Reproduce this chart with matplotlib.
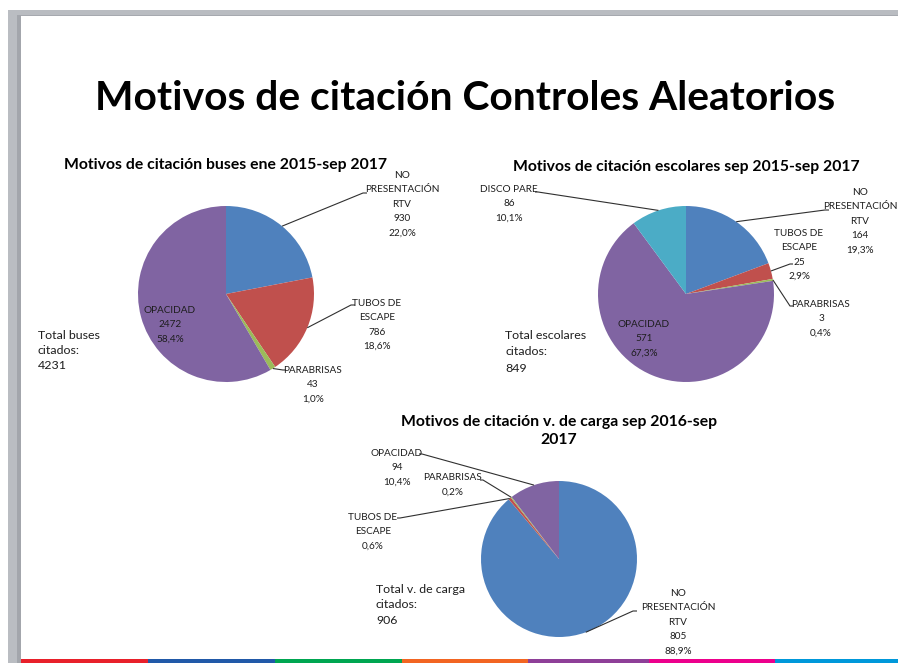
import numpy as np
import matplotlib
matplotlib.use("Agg")
import matplotlib.pyplot as plt
from matplotlib.patches import Rectangle

plt.rcParams['font.family'] = ['Lato', 'DejaVu Sans']

# ---------------- data ----------------
title = "Motivos de citación Controles Aleatorios"

buses_title = "Motivos de citación buses ene 2015-sep 2017"
buses_labels = ["NO\nPRESENTACIÓN\nRTV", "TUBOS DE\nESCAPE", "PARABRISAS", "OPACIDAD"]
buses_values = [930, 786, 43, 2472]
buses_pct = ["22,0%", "18,6%", "1,0%", "58,4%"]
buses_total = 4231

esc_title = "Motivos de citación escolares sep 2015-sep 2017"
esc_labels = ["NO\nPRESENTACIÓN\nRTV", "TUBOS DE\nESCAPE", "PARABRISAS", "OPACIDAD", "DISCO PARE"]
esc_values = [164, 25, 3, 571, 86]
esc_pct = ["19,3%", "2,9%", "0,4%", "67,3%", "10,1%"]
esc_total = 849

carga_title = "Motivos de citación v. de carga sep 2016-sep\n2017"
carga_labels = ["NO\nPRESENTACIÓN\nRTV", "TUBOS DE\nESCAPE", "PARABRISAS", "OPACIDAD"]
carga_values = [805, 5, 2, 94]
carga_pct = ["88,9%", "0,6%", "0,2%", "10,4%"]
carga_show_value = [True, False, False, True]
carga_total = 906

COLORS = {"NO\nPRESENTACIÓN\nRTV": "#4F81BD", "TUBOS DE\nESCAPE": "#C0504D",
          "PARABRISAS": "#9BBB59", "OPACIDAD": "#8064A2", "DISCO PARE": "#4BACC6"}

W, H = 898, 663
fig = plt.figure(figsize=(W / 100, H / 100), dpi=100)
ax = fig.add_axes([0, 0, 1, 1])

def Y(y):  # pixel-from-top -> data y
    return H - y

LABEL_FS = 7.2
TOTAL_FS = 8.9
SUB_FS = 11.3
TXT = "#1E1E1E"

def draw_pie(values, labels, pct, center, radius, layout, show_value=None):
    cx, cy = center
    cols = [COLORS[l] for l in labels]
    wedges, _ = ax.pie(values, colors=cols, startangle=90, counterclock=False,
                       center=(cx, Y(cy)), radius=radius,
                       wedgeprops=dict(linewidth=0))
    for i, w in enumerate(wedges):
        txt = labels[i]
        if show_value is None or show_value[i]:
            txt += "\n" + str(values[i])
        txt += "\n" + pct[i]
        lay = layout[i]
        tx, ty = lay["pos"]
        ax.text(tx, Y(ty + 2), txt, ha="center", va="top", fontsize=LABEL_FS,
                color=TXT, linespacing=1.76)
        if "leader" in lay:
            mid = np.deg2rad((w.theta1 + w.theta2) / 2)
            ex = cx + radius * np.cos(mid)
            ey = Y(cy) + radius * np.sin(mid)
            pts = [(ex, ey)] + [(px, Y(py)) for px, py in lay["leader"]]
            xs, ys = zip(*pts)
            ax.plot(xs, ys, color="#303030", lw=0.8, solid_capstyle="butt")

# ---- pie 1: buses
ax.text(225, Y(165), buses_title, ha="center", va="center", fontsize=SUB_FS,
        fontweight="bold", color="black")
draw_pie(buses_values, buses_labels, buses_pct, (226, 294), 88, [
    {"pos": (402, 169), "leader": [(363, 193), (367, 193)]},
    {"pos": (377, 297), "leader": [(351, 305), (355, 305)]},
    {"pos": (313, 364), "leader": [(283, 370), (286, 370)]},
    {"pos": (170, 304)},
])
ax.text(38, Y(330), "Total buses\ncitados:\n" + str(buses_total), ha="left", va="top",
        fontsize=TOTAL_FS, color=TXT, linespacing=1.45)

# ---- pie 2: escolares
ax.text(686, Y(167), esc_title, ha="center", va="center", fontsize=SUB_FS,
        fontweight="bold", color="black")
draw_pie(esc_values, esc_labels, esc_pct, (686, 294), 88, [
    {"pos": (860, 186), "leader": [(825, 210), (829, 210)]},
    {"pos": (799, 227), "leader": [(790, 264), (793, 264)]},
    {"pos": (821, 298), "leader": [(790, 306), (793, 306)]},
    {"pos": (644, 318)},
    {"pos": (509, 183), "leader": [(538, 192), (535, 192)]},
])
ax.text(505, Y(330), "Total escolares\ncitados:\n" + str(esc_total), ha="left", va="top",
        fontsize=TOTAL_FS, color=TXT, linespacing=1.6)

# ---- pie 3: carga
ax.text(559, Y(431), carga_title, ha="center", va="center", fontsize=SUB_FS,
        fontweight="bold", color="black", linespacing=1.3)
draw_pie(carga_values, carga_labels, carga_pct, (559, 559), 78, [
    {"pos": (678, 587), "leader": [(633, 611), (637, 611)]},
    {"pos": (373, 511), "leader": [(400, 518), (397, 518)]},
    {"pos": (453, 471), "leader": [(483, 480), (480, 480)]},
    {"pos": (397, 447), "leader": [(422, 454), (419, 454)]},
], show_value=carga_show_value)
ax.text(376, Y(584), "Total v. de carga\ncitados:\n" + str(carga_total), ha="left", va="top",
        fontsize=TOTAL_FS, color=TXT, linespacing=1.5)

# ---- main title
ax.text(465, Y(98), title, ha="center", va="center", fontsize=29.3,
        fontweight="bold", color="black")

# ---- slide frame
ax.add_patch(Rectangle((8, Y(15)), W - 8, 5, color="#B9BCC1", lw=0, zorder=5))
ax.add_patch(Rectangle((8, Y(16)), W - 8, 1.2, color="#A6A9AF", lw=0, zorder=5))
ax.add_patch(Rectangle((8, 0), 13, Y(10), color="#BABDC2", lw=0, zorder=5))
ax.add_patch(Rectangle((17, 0), 4, Y(15), color="#A3A6AC", lw=0, zorder=6))
strip = [(21, 148, "#E8202A"), (148, 275, "#2159A8"), (275, 402, "#00A651"),
         (402, 528, "#F26522"), (528, 649, "#8E3F98"), (649, 775, "#EC008C"),
         (775, 898, "#0098DA")]
for x0, x1, c in strip:
    ax.add_patch(Rectangle((x0, 0), x1 - x0, 4, color=c, lw=0, zorder=5))

ax.set_xlim(0, W)
ax.set_ylim(0, H)
ax.set_aspect("auto")
ax.axis("off")

fig.savefig("out.png", dpi=100)
